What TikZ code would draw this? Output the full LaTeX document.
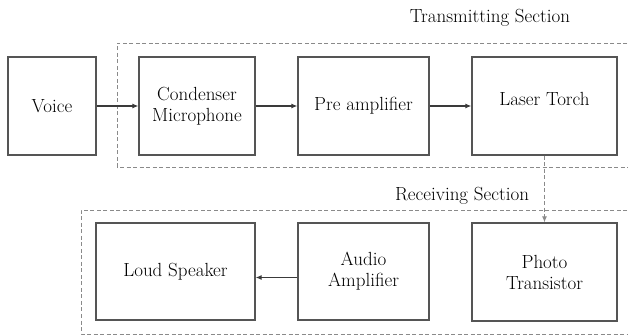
\documentclass[tikz,border=0pt]{standalone}
\usepackage{fontspec}
\usetikzlibrary{arrows.meta}
\definecolor{boxc}{HTML}{555555}
\definecolor{linec}{HTML}{3A3A3A}
\definecolor{dashc}{HTML}{8A8A8A}
\tikzset{
  blk/.style={draw=boxc, line width=1.3pt, minimum height=98pt, inner sep=0pt, align=center,
    font=\rmfamily\fontsize{19pt}{21pt}\selectfont},
  conn/.style={draw=linec, line width=1.1pt, -{Latex[length=6pt,width=5pt]}},
  sect/.style={draw=dashc, line width=0.9pt, dash pattern=on 4pt off 2.5pt},
  lbl/.style={font=\rmfamily\fontsize{19pt}{21pt}\selectfont, inner sep=0pt}
}
\begin{document}
\begin{tikzpicture}[x=1pt,y=-1pt]
\useasboundingbox (0,0) rectangle (628,336);
\clip (0,0) rectangle (628,336);
% section frames
\draw[sect] (640,43) -- (117,43) -- (117,167) -- (640,167);
\draw[sect] (640,210) -- (81,210) -- (81,334) -- (640,334);
\node[lbl] (tlbl) at (490,18) {Transmitting Section};
\node[lbl] (rlbl) at (462,196) {Receiving Section};
% blocks
\node[blk, minimum width=88pt] (voice) at (52,106) {Voice};
\node[blk, minimum width=116pt] (mic) at (197,106) {Condenser\\Microphone};
\node[blk, minimum width=131pt] (pre) at (363.5,106) {Pre amplifier};
\node[blk, minimum width=145pt] (laser) at (544.5,106) {};
\node[lbl] (lasertxt) at ([yshift=7pt]laser.center) {Laser Torch};
\node[blk, minimum width=159pt, minimum height=97pt] (spk) at (175.5,271.5) {Loud Speaker};
\node[blk, minimum width=131pt, minimum height=97pt] (amp) at (363.5,271.5) {Audio\\Amplifier};
\node[blk, minimum width=145pt] (photo) at (544.5,272) {Photo\\Transistor};
% connectors
\draw[conn] (voice) -- (mic);
\draw[conn] (mic) -- (pre);
\draw[conn] (pre) -- (laser);
\draw[conn, draw=dashc, line width=0.9pt, dash pattern=on 4pt off 2.5pt] (laser.south) -- (photo.north);
\draw[conn] ([yshift=-6pt]amp.west) -- ([yshift=-6pt]spk.east);
\end{tikzpicture}
\end{document}
